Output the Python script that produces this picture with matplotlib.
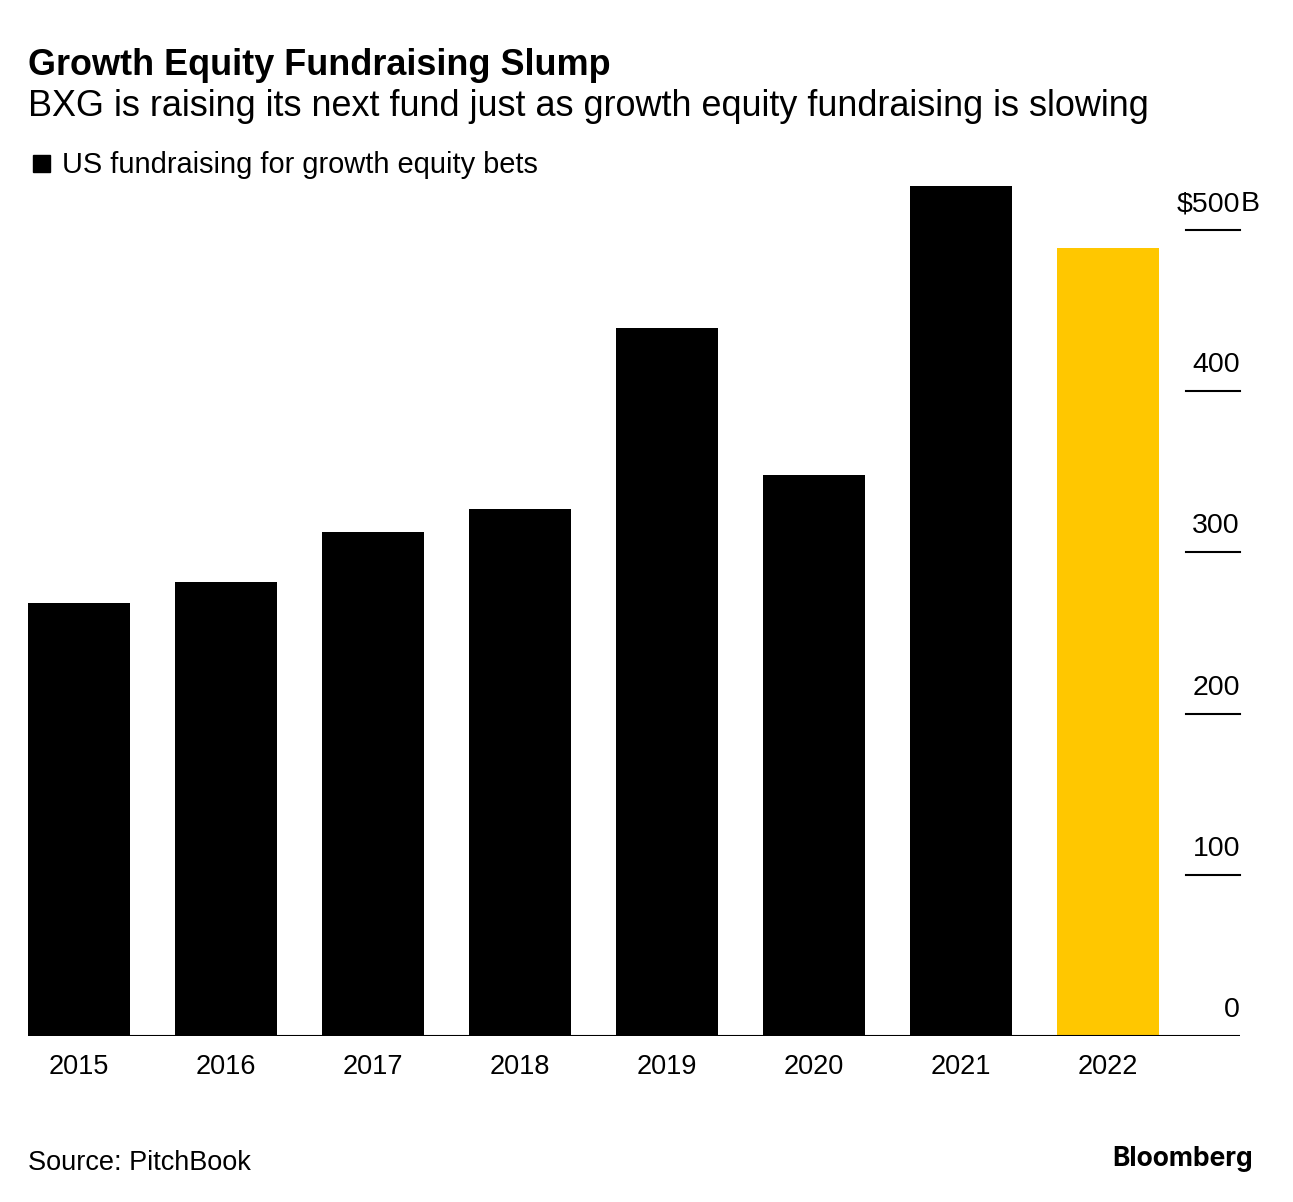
import matplotlib
matplotlib.use("Agg")
import matplotlib.pyplot as plt
import matplotlib.patches as mpatches

years = ["2015", "2016", "2017", "2018", "2019", "2020", "2021", "2022"]
values = [268.5, 281.5, 312.5, 327, 439, 348, 527, 489]
colors = ["#000000"] * 7 + ["#FFC700"]
yticks = [0, 100, 200, 300, 400, 500]

plt.rcParams['font.family'] = ['Liberation Sans', 'DejaVu Sans']

W, H = 1293, 1202
fig = plt.figure(figsize=(W / 100, H / 100), dpi=100)

def fx(x):
    return x / W

def fy(y):
    return 1 - y / H

# axes placed in pixel terms: left 28, right 1240, bottom 1036
ax = fig.add_axes([fx(28), fy(1036), fx(1240) - fx(28), fy(165.5) - fy(1036)])
bw = 0.694
ax.bar(range(len(years)), values, width=bw, color=colors, zorder=2)
ax.set_xlim(-bw / 2, 7.898)
ax.set_ylim(0, 540)

for s in ax.spines.values():
    s.set_visible(False)
ax.axhline(0, color="#000000", lw=1.5, zorder=3)
ax.set_xticks(range(len(years)))
ax.set_xticklabels(years, fontsize=19.5)
ax.tick_params(axis="x", length=0, pad=13)
ax.set_yticks([])

# right-side ticks: short line with label above it
for t in yticks:
    if t > 0:
        ax.plot([7.531, 7.898], [t, t], color="#000000", lw=1.5, clip_on=False, zorder=3)
    if t == 500:
        ax.text(7.898, t + 8, "$500", ha="right", va="bottom", fontsize=20.5)
        ax.text(7.905, t + 8, "B", ha="left", va="bottom", fontsize=20.5)
    else:
        ax.text(7.898, t + 8, str(t), ha="right", va="bottom", fontsize=20.5)

fig.text(fx(28), fy(75), "Growth Equity Fundraising Slump", fontsize=25.9,
         fontweight="bold", va="baseline")
fig.text(fx(28), fy(116), "BXG is raising its next fund just as growth equity fundraising is slowing",
         fontsize=25.9, va="baseline")
fig.patches.append(mpatches.Rectangle((fx(33), fy(172)), fx(17), fy(155) - fy(172),
                                      transform=fig.transFigure, color="#000000"))
fig.text(fx(62), fy(173), "US fundraising for growth equity bets", fontsize=20.9, va="baseline")
fig.text(fx(28), fy(1170), "Source: PitchBook", fontsize=19.5, va="baseline")
fig.text(fx(1253), fy(1166), "Bloomberg", fontsize=19, fontweight="bold",
         family=["Inter", "DejaVu Sans"], ha="right", va="baseline")

fig.savefig("out.png", dpi=100, facecolor="white")
